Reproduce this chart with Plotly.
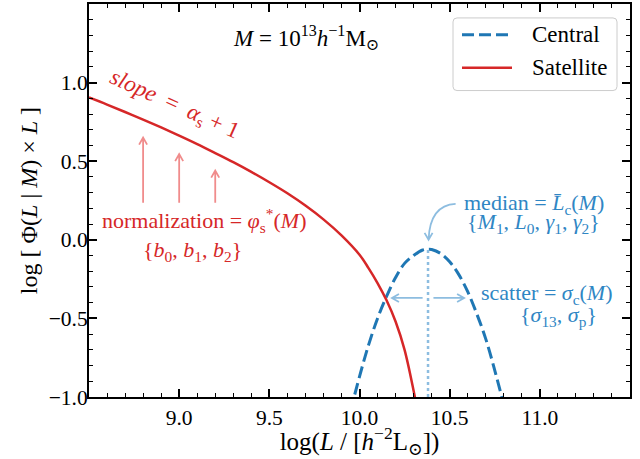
import plotly.graph_objects as go

# Satellite conditional luminosity function, log[Phi(L|M) x L]
sat_logL = [8.5, 8.6, 8.7, 8.8, 8.9, 9.0, 9.1, 9.2, 9.3, 9.4, 9.5, 9.6, 9.7,
            9.8, 9.9, 10.0, 10.05, 10.1, 10.15, 10.2, 10.25, 10.3, 10.32]
sat_logPhi = [0.905, 0.86, 0.813, 0.765, 0.715, 0.663, 0.609, 0.552, 0.494,
              0.432, 0.366, 0.296, 0.218, 0.13, 0.028, -0.095, -0.18,
              -0.275, -0.385, -0.52, -0.70, -0.96, -1.08]

# Central galaxies: log-normal around the median luminosity
cen_logL = [9.95, 10.0, 10.05, 10.1, 10.15, 10.2, 10.25, 10.3, 10.35, 10.38,
            10.4, 10.45, 10.5, 10.55, 10.6, 10.65, 10.7, 10.75, 10.8]
cen_logPhi = [-1.09, -0.87, -0.67, -0.50, -0.36, -0.24, -0.15, -0.10, -0.065,
              -0.06, -0.062, -0.087, -0.14, -0.22, -0.33, -0.47, -0.63,
              -0.83, -1.05]

cen_median = 10.38
cen_peak = -0.06

# normalization arrows (x, tail, head)
norm_x = [8.8, 9.0, 9.2]
norm_tail = [0.235, 0.235, 0.235]
norm_head = [0.65, 0.545, 0.44]

# scatter arrows (tail x, head x) at a common height
scat_y = -0.37
scat_tail = [10.35, 10.41]
scat_head = [10.18, 10.58]

legend_names = ["Central", "Satellite"]

X_RANGE = [8.5, 11.5]
Y_RANGE = [-1.0, 1.5]

W, H = 640, 459
M_L, M_R, M_T, M_B = 89, 10, 2, 62
PLOT_W = W - M_L - M_R
PLOT_H = H - M_T - M_B
PX_X = PLOT_W / (X_RANGE[1] - X_RANGE[0])
PX_Y = PLOT_H / (Y_RANGE[1] - Y_RANGE[0])

RED = "#d62728"
BLUE = "#1f77b4"
LRED = "#f08c8c"
LBLUE = "#8dbde0"
TXT_BLUE = "#2f86c4"
FONT = "Liberation Serif, Times New Roman, DejaVu Serif, serif"
DASH = "12px,5px"


def paper_x(px):
    return (px - M_L) / PLOT_W


def paper_y(py):
    return (H - M_B - py) / PLOT_H


def arrow_path(x0, y0, x1, y1, head_len=7, head_half=4):
    """Straight arrow from (x0,y0) to (x1,y1) with an open chevron head (sizes in px)."""
    dxp = (x1 - x0) * PX_X
    dyp = (y1 - y0) * PX_Y
    n = (dxp ** 2 + dyp ** 2) ** 0.5
    ux, uy = dxp / n, dyp / n
    px, py = -uy, ux
    ax = x1 + (-ux * head_len + px * head_half) / PX_X
    ay = y1 + (-uy * head_len + py * head_half) / PX_Y
    bx = x1 + (-ux * head_len - px * head_half) / PX_X
    by = y1 + (-uy * head_len - py * head_half) / PX_Y
    return f"M {x0},{y0} L {x1},{y1} M {ax},{ay} L {x1},{y1} L {bx},{by}"


def head_only(x0, y0, x1, y1):
    return "M" + arrow_path(x0, y0, x1, y1).split(" M", 1)[1]


def rounded_box(x0, y0, x1, y1, r):
    """Rounded rectangle in paper coords from pixel corners."""
    X0, X1 = paper_x(x0), paper_x(x1)
    Y0, Y1 = paper_y(y0), paper_y(y1)
    rx, ry = r / PLOT_W, r / PLOT_H
    return (f"M {X0 + rx},{Y0} L {X1 - rx},{Y0} Q {X1},{Y0} {X1},{Y0 - ry} "
            f"L {X1},{Y1 + ry} Q {X1},{Y1} {X1 - rx},{Y1} "
            f"L {X0 + rx},{Y1} Q {X0},{Y1} {X0},{Y1 + ry} "
            f"L {X0},{Y0 - ry} Q {X0},{Y0} {X0 + rx},{Y0} Z")


fig = go.Figure()

fig.add_trace(go.Scatter(
    x=cen_logL, y=cen_logPhi, mode="lines", name=legend_names[0],
    line=dict(color=BLUE, width=3, dash=DASH, shape="spline"),
    showlegend=False,
))
fig.add_trace(go.Scatter(
    x=sat_logL, y=sat_logPhi, mode="lines", name=legend_names[1],
    line=dict(color=RED, width=2.5, shape="spline"),
    showlegend=False,
))

shapes = []
# median marker line
shapes.append(dict(type="line", xref="x", yref="y",
                   x0=cen_median, x1=cen_median, y0=Y_RANGE[0], y1=cen_peak,
                   line=dict(color=LBLUE, width=2.5, dash="dot")))
for x, t, h in zip(norm_x, norm_tail, norm_head):
    shapes.append(dict(type="path", xref="x", yref="y",
                       path=arrow_path(x, t, x, h),
                       line=dict(color=LRED, width=1.8)))
for t, h in zip(scat_tail, scat_head):
    shapes.append(dict(type="path", xref="x", yref="y",
                       path=arrow_path(t, scat_y, h, scat_y),
                       line=dict(color=LBLUE, width=1.8)))

# curved pointer from the median label to the peak
cx0, cy0 = 10.533, 0.228
cxc, cyc = 10.39, 0.22
cx1, cy1 = 10.383, 0.0
curve = f"M {cx0},{cy0} Q {cxc},{cyc} {cx1},{cy1} " + head_only(cx1, cy1 + 0.04, cx1, cy1)
shapes.append(dict(type="path", xref="x", yref="y", path=curve,
                   line=dict(color=LBLUE, width=1.8)))

# legend frame and samples
shapes.append(dict(type="path", xref="paper", yref="paper",
                   path=rounded_box(453, 16, 617, 89, 4),
                   fillcolor="rgba(255,255,255,0.85)",
                   line=dict(color="#cccccc", width=1)))
legend_rows = [(33, BLUE, 3, DASH), (66, RED, 2.5, "solid")]
for (py, col, lw, dash) in legend_rows:
    shapes.append(dict(type="line", xref="paper", yref="paper",
                       x0=paper_x(462), x1=paper_x(512),
                       y0=paper_y(py), y1=paper_y(py),
                       line=dict(color=col, width=lw, dash=dash)))

ANN = 22
anns = [
    dict(x=9.706, y=1.29,
         text="<i>M</i> = 10<sup>13</sup><i>h</i><sup>−1</sup>M<sub>⊙</sub>",
         font=dict(color="black", size=23, family=FONT)),
    dict(x=8.972, y=0.86, textangle=24,
         text="<i>slope</i>  =  <i>α</i><sub>s</sub> + 1",
         font=dict(color=RED, size=23, family=FONT)),
    dict(x=9.14, y=0.12,
         text="normalization = <i>φ</i><sub>s</sub><sup>*</sup>(<i>M</i>)",
         font=dict(color=RED, size=ANN, family=FONT)),
    dict(x=9.072, y=-0.07,
         text="{<i>b</i><sub>0</sub>, <i>b</i><sub>1</sub>, <i>b</i><sub>2</sub>}",
         font=dict(color=RED, size=ANN, family=FONT)),
    dict(x=10.97, y=0.228,
         text="median = <i>L̄</i><sub>c</sub>(<i>M</i>)",
         font=dict(color=TXT_BLUE, size=ANN, family=FONT)),
    dict(x=10.965, y=0.108,
         text="{<i>M</i><sub>1</sub>, <i>L</i><sub>0</sub>, <i>γ</i><sub>1</sub>, <i>γ</i><sub>2</sub>}",
         font=dict(color=TXT_BLUE, size=ANN, family=FONT)),
    dict(x=11.04, y=-0.342,
         text="scatter = <i>σ</i><sub>c</sub>(<i>M</i>)",
         font=dict(color=TXT_BLUE, size=ANN, family=FONT)),
    dict(x=11.105, y=-0.487,
         text="{<i>σ</i><sub>13</sub>, <i>σ</i><sub>p</sub>}",
         font=dict(color=TXT_BLUE, size=ANN, family=FONT)),
]
for a in anns:
    a.update(xref="x", yref="y", showarrow=False, xanchor="center", yanchor="middle")

for (py, _, _, _), name in zip(legend_rows, legend_names):
    anns.append(dict(xref="paper", yref="paper", x=paper_x(530), y=paper_y(py),
                     xanchor="left", yanchor="middle", showarrow=False,
                     text=name, font=dict(size=23, family=FONT, color="black")))

axis_common = dict(
    showline=True, linecolor="black", linewidth=2, mirror="allticks",
    ticks="inside", ticklen=8, tickwidth=1.5, tickcolor="black",
    showgrid=False, zeroline=False, tickformat=".1f",
    tickfont=dict(size=21.5, color="black", family=FONT),
)

fig.update_xaxes(
    range=X_RANGE, tickvals=[9.0, 9.5, 10.0, 10.5, 11.0],
    minor=dict(ticks="inside", dtick=0.1, tick0=8.5, ticklen=4, tickwidth=1,
               tickcolor="black", showgrid=False),
    title=dict(text="log(<i>L</i> / [<i>h</i><sup>−2</sup>L<sub>⊙</sub>])",
               font=dict(size=25, color="black", family=FONT), standoff=2),
    **axis_common,
)
fig.update_yaxes(
    range=Y_RANGE, tickvals=[-1.0, -0.5, 0.0, 0.5, 1.0],
    minor=dict(ticks="inside", dtick=0.1, tick0=-1.0, ticklen=4, tickwidth=1,
               tickcolor="black", showgrid=False),
    ticklabelstandoff=-5,
    title=dict(text="log [ Φ(<i>L</i> | <i>M</i>) × <i>L</i> ]",
               font=dict(size=24, color="black", family=FONT), standoff=4),
    **axis_common,
)

fig.update_layout(
    width=W, height=H,
    margin=dict(l=M_L, r=M_R, t=M_T, b=M_B),
    paper_bgcolor="white", plot_bgcolor="white",
    font=dict(family=FONT, color="black"),
    shapes=shapes, annotations=anns,
    showlegend=False,
)

fig.write_html("out.html")
